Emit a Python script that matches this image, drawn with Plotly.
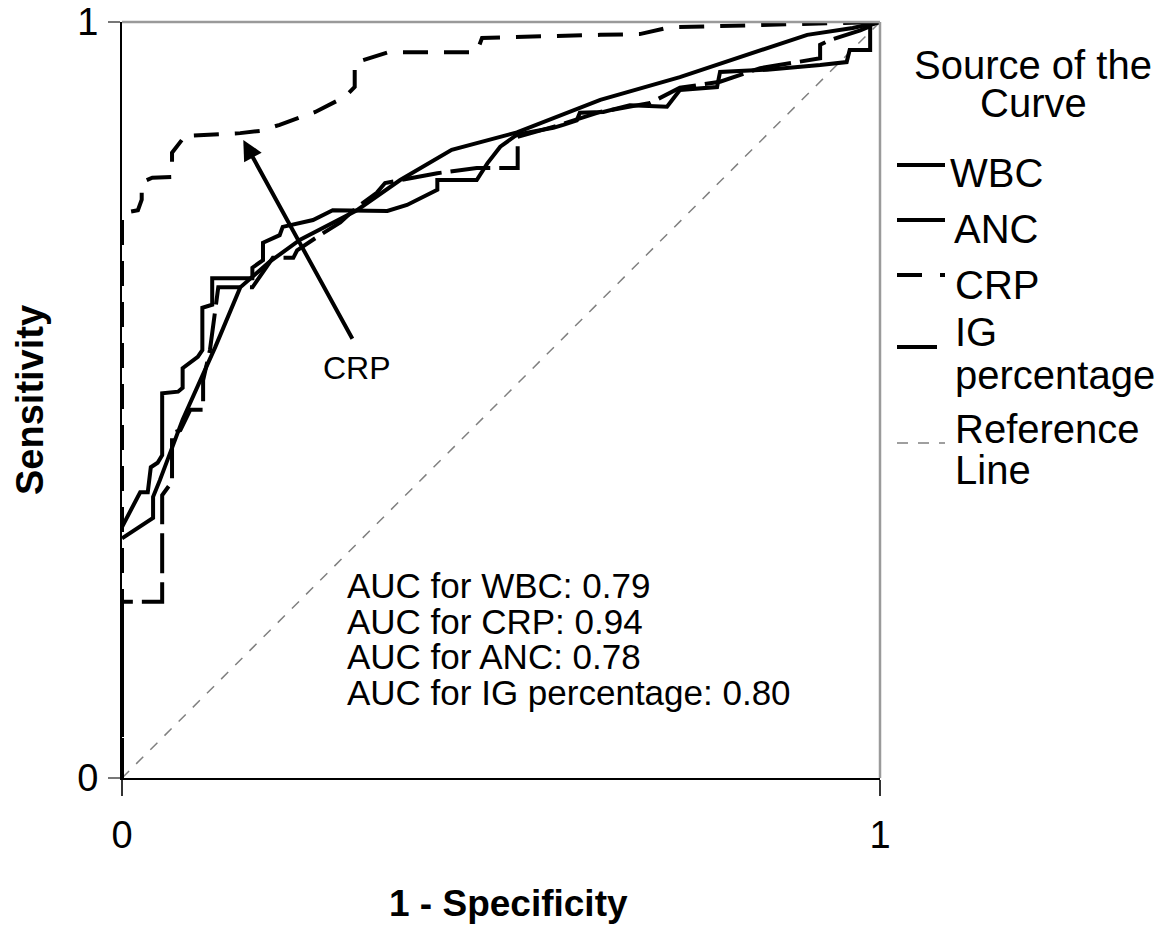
import plotly.graph_objects as go

# ---------------- data ----------------
wbc_fpr = [0, 0.041, 0.041, 0.050, 0.080, 0.123, 0.156, 0.195, 0.235, 0.310, 0.367, 0.435,
           0.521, 0.631, 0.736, 0.904, 0.964, 1]
wbc_tpr = [0.317, 0.344, 0.372, 0.394, 0.474, 0.570, 0.649, 0.683, 0.712, 0.751, 0.791, 0.831,
           0.854, 0.897, 0.927, 0.983, 0.992, 1]

anc_fpr = [0, 0.024, 0.034, 0.038, 0.047, 0.053, 0.053, 0.074, 0.080, 0.080, 0.100, 0.106, 0.106,
           0.119, 0.119, 0.172, 0.172, 0.186, 0.186, 0.208, 0.212, 0.252, 0.278, 0.310, 0.350,
           0.376, 0.402, 0.416, 0.416, 0.468, 0.482, 0.499, 0.521, 0.569, 0.582, 0.600, 0.604,
           0.635, 0.670, 0.719, 0.736, 0.785, 0.789, 0.851, 0.921, 0.956, 0.960, 0.987, 0.987, 1]
anc_tpr = [0.332, 0.378, 0.378, 0.411, 0.417, 0.427, 0.509, 0.511, 0.516, 0.542, 0.557, 0.566, 0.622,
           0.626, 0.661, 0.661, 0.675, 0.685, 0.708, 0.718, 0.729, 0.738, 0.751, 0.751, 0.750,
           0.758, 0.771, 0.778, 0.791, 0.791, 0.813, 0.835, 0.851, 0.860, 0.864, 0.870, 0.880,
           0.881, 0.890, 0.888, 0.910, 0.914, 0.934, 0.937, 0.943, 0.947, 0.963, 0.963, 0.996, 1]

crp_fpr = [0, 0, 0.021, 0.026, 0.026, 0.040, 0.066, 0.066, 0.079, 0.079, 0.156, 0.182, 0.208,
           0.255, 0.294, 0.307, 0.307, 0.351, 0.468, 0.475, 0.631, 0.683, 0.723, 1]
crp_tpr = [0, 0.747, 0.751, 0.765, 0.788, 0.794, 0.795, 0.827, 0.844, 0.849, 0.853, 0.856, 0.864,
           0.881, 0.901, 0.914, 0.946, 0.960, 0.960, 0.979, 0.983, 0.984, 0.993, 1]

ig_fpr = [0, 0, 0.053, 0.053, 0.066, 0.066, 0.077, 0.090, 0.107, 0.107, 0.116, 0.127, 0.172, 0.199,
          0.226, 0.231, 0.261, 0.288, 0.310, 0.336, 0.347, 0.367, 0.416, 0.468, 0.522, 0.522,
          0.578, 0.631, 0.697, 0.736, 0.789, 0.842, 0.912, 0.921, 0.921, 0.934, 0.974, 1]
ig_tpr = [0, 0.233, 0.233, 0.374, 0.392, 0.456, 0.460, 0.487, 0.487, 0.526, 0.566, 0.649, 0.649, 0.688,
          0.688, 0.698, 0.718, 0.735, 0.755, 0.774, 0.787, 0.791, 0.800, 0.807, 0.807, 0.848,
          0.864, 0.881, 0.893, 0.913, 0.921, 0.939, 0.950, 0.952, 0.970, 0.976, 0.989, 1]

ref_x = [0, 1]
ref_y = [0, 1]

auc_labels = ["AUC for WBC: 0.79", "AUC for CRP: 0.94", "AUC for ANC: 0.78",
              "AUC for IG percentage: 0.80"]

legend_names = ["WBC", "ANC", "CRP", "IG<br>percentage", "Reference<br>Line"]

# arrow pointing to the CRP curve (data coordinates)
arrow_head = (0.160, 0.844)
arrow_tail = (0.305, 0.579)

# ---------------- figure ----------------
FONT = "Liberation Sans, Arial, sans-serif"
W, H = 1166, 929
L, R, T, B = 122, 286, 22, 151
PW, PH = W - L - R, H - T - B


def px(x):
    return (x - L) / PW


def py(y):
    return (H - B - y) / PH


fig = go.Figure()
lw = 4
fig.add_trace(go.Scatter(x=ref_x, y=ref_y, mode="lines",
                         line=dict(color="#808080", width=1.5, dash="10px,10px"),
                         showlegend=False, hoverinfo="skip"))
fig.add_trace(go.Scatter(x=ig_fpr, y=ig_tpr, mode="lines",
                         line=dict(color="black", width=lw, dash="40px,9px"),
                         showlegend=False))
fig.add_trace(go.Scatter(x=anc_fpr, y=anc_tpr, mode="lines",
                         line=dict(color="black", width=lw), showlegend=False))
fig.add_trace(go.Scatter(x=wbc_fpr, y=wbc_tpr, mode="lines",
                         line=dict(color="black", width=lw), showlegend=False))
fig.add_trace(go.Scatter(x=crp_fpr, y=crp_tpr, mode="lines",
                         line=dict(color="black", width=lw, dash="25px,16px"),
                         showlegend=False))

shapes = [
    # gray top and right border
    dict(type="line", xref="paper", yref="paper", x0=0, x1=1, y0=1, y1=1,
         line=dict(color="#9a9a9a", width=2.5)),
    dict(type="line", xref="paper", yref="paper", x0=1, x1=1, y0=0, y1=1,
         line=dict(color="#9a9a9a", width=2.5)),
]

# manual legend
leg_line_x0, leg_line_x1 = px(897), px(945)
legend_samples = [
    (165, dict(color="black", width=lw)),
    (220, dict(color="black", width=lw)),
    (275, dict(color="black", width=lw, dash="25px,18px")),
    (347, dict(color="black", width=lw, dash="40px,9px")),
    (443, dict(color="#808080", width=1.5, dash="11px,10px")),
]
for yy, ln in legend_samples:
    shapes.append(dict(type="line", xref="paper", yref="paper",
                       x0=leg_line_x0, x1=leg_line_x1, y0=py(yy), y1=py(yy), line=ln))

annotations = []
LEGF = 40
annotations.append(dict(xref="paper", yref="paper", x=px(1033), y=py(65), text="Source of the",
                        showarrow=False, xanchor="center", yanchor="middle",
                        font=dict(family=FONT, size=LEGF, color="black")))
annotations.append(dict(xref="paper", yref="paper", x=px(1033), y=py(103), text="Curve",
                        showarrow=False, xanchor="center", yanchor="middle",
                        font=dict(family=FONT, size=LEGF, color="black")))
legend_text_pos = [(948, [173]), (952, [229]), (953, [285]), (953, [332, 375]), (953, [429, 470])]
for name, (xx, ys) in zip(legend_names, legend_text_pos):
    parts = name.split("<br>")
    for part, yy in zip(parts, ys):
        annotations.append(dict(xref="paper", yref="paper", x=px(xx), y=py(yy), text=part,
                                showarrow=False, xanchor="left", yanchor="middle",
                                font=dict(family=FONT, size=LEGF, color="black")))

# AUC text
for lab, yy in zip(auc_labels, [585, 621, 656, 692]):
    annotations.append(dict(xref="paper", yref="paper", x=px(345), y=py(yy), text=lab,
                            showarrow=False, xanchor="left", yanchor="middle",
                            font=dict(family=FONT, size=35, color="black")))

# arrow + CRP label
annotations.append(dict(xref="x", yref="y", axref="x", ayref="y",
                        x=arrow_head[0], y=arrow_head[1], ax=arrow_tail[0], ay=arrow_tail[1],
                        text="", showarrow=True, arrowhead=2, arrowsize=1.0, arrowwidth=4,
                        arrowcolor="black", standoff=0, startstandoff=0))
annotations.append(dict(xref="paper", yref="paper", x=px(357), y=py(368), text="CRP",
                        showarrow=False, xanchor="center", yanchor="middle",
                        font=dict(family=FONT, size=32, color="black")))

# axis titles
annotations.append(dict(xref="paper", yref="paper", x=px(508), y=py(903), text="<b>1 - Specificity</b>",
                        showarrow=False, xanchor="center", yanchor="middle",
                        font=dict(family=FONT, size=37, color="black")))
annotations.append(dict(xref="paper", yref="paper", x=px(30), y=py(400), text="<b>Sensitivity</b>",
                        showarrow=False, xanchor="center", yanchor="middle", textangle=-90,
                        font=dict(family=FONT, size=38, color="black")))

fig.update_layout(
    width=W, height=H,
    margin=dict(l=L, r=R, t=T, b=B, pad=0, autoexpand=False),
    paper_bgcolor="white", plot_bgcolor="white",
    showlegend=False,
    shapes=shapes, annotations=annotations,
    font=dict(family=FONT, color="black"),
    xaxis=dict(range=[0, 1], showgrid=False, zeroline=False, showline=True, automargin=False,
               linecolor="black", linewidth=2, ticks="outside", ticklen=16,
               tickcolor="#333", tickwidth=2, tickvals=[0, 1], ticktext=["0", "1"],
               tickfont=dict(family=FONT, size=38, color="black"), ticklabelstandoff=6),
    yaxis=dict(range=[0, 1], showgrid=False, zeroline=False, showline=True, automargin=False,
               linecolor="black", linewidth=2, ticks="outside", ticklen=12,
               tickcolor="#777", tickwidth=2, tickvals=[0, 1], ticktext=["0", "1"],
               tickfont=dict(family=FONT, size=38, color="black"), ticklabelstandoff=2),
)

fig.write_html("out.html", config={"displayModeBar": False},
               post_script="document.body.style.margin='0';")
